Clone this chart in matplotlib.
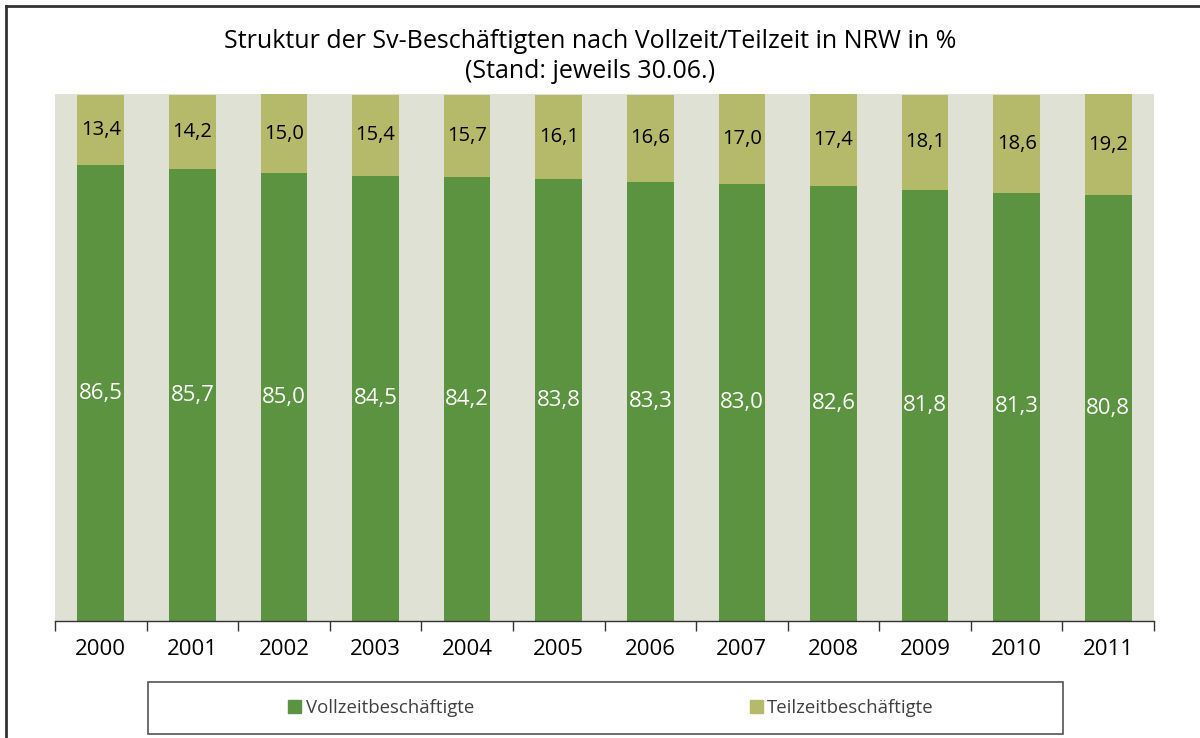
import matplotlib
matplotlib.use("Agg")
import matplotlib.pyplot as plt
from matplotlib.patches import Patch, Rectangle
from matplotlib.lines import Line2D

# Data
years = ["2000", "2001", "2002", "2003", "2004", "2005",
         "2006", "2007", "2008", "2009", "2010", "2011"]
vollzeit = [86.5, 85.7, 85.0, 84.5, 84.2, 83.8, 83.3, 83.0, 82.6, 81.8, 81.3, 80.8]
teilzeit = [13.4, 14.2, 15.0, 15.4, 15.7, 16.1, 16.6, 17.0, 17.4, 18.1, 18.6, 19.2]

c_voll = "#5b9340"
c_teil = "#b5ba6a"
c_bg = "#e0e1d5"

plt.rcParams["font.family"] = ["Open Sans", "DejaVu Sans"]

fig = plt.figure(figsize=(12, 7.38), dpi=100)
ax = fig.add_axes([55 / 1200, 1 - 621 / 738, 1099 / 1200, 527 / 738])

x = list(range(len(years)))
ax.bar(x, vollzeit, width=0.51, color=c_voll, zorder=2)
ax.bar(x, teilzeit, width=0.51, bottom=vollzeit, color=c_teil, zorder=2)

for i, (v, t) in enumerate(zip(vollzeit, teilzeit)):
    ax.text(i, v / 2, f"{v:.1f}".replace(".", ","), ha="center", va="center",
            color="white", fontsize=16, zorder=3)
    ax.text(i, v + t / 2, f"{t:.1f}".replace(".", ","), ha="center", va="center",
            color="black", fontsize=14.5, zorder=3)

ax.set_facecolor(c_bg)
ax.set_xlim(-0.5, len(years) - 0.5)
ax.set_ylim(0, 100)
ax.set_yticks([])
for s in ["top", "right", "left"]:
    ax.spines[s].set_visible(False)
ax.spines["bottom"].set_color("#333333")
ax.spines["bottom"].set_linewidth(1.0)

# category boundary ticks
ax.set_xticks([i - 0.5 for i in range(len(years) + 1)])
ax.set_xticklabels([])
ax.tick_params(axis="x", length=7, color="#333333", width=1.0)
ax.set_xticks(x, minor=True)
ax.set_xticklabels(years, minor=True, fontsize=16)
ax.tick_params(axis="x", which="minor", length=0, pad=13)

fig.text(0.492, 1 - 42 / 738, "Struktur der Sv-Beschäftigten nach Vollzeit/Teilzeit in NRW in %",
         ha="center", va="center", fontsize=18)
fig.text(0.492, 1 - 71 / 738, "(Stand: jeweils 30.06.)",
         ha="center", va="center", fontsize=18)

# legend box
fig.add_artist(Rectangle((148 / 1200, 1 - 734 / 738), 915 / 1200, 52 / 738,
                         transform=fig.transFigure, fill=False,
                         edgecolor="#555555", linewidth=1.2))
handles = [Patch(color=c_voll, label="Vollzeitbeschäftigte"),
           Patch(color=c_teil, label="Teilzeitbeschäftigte")]
leg = fig.legend(handles=handles, loc="center", bbox_to_anchor=(611 / 1200, 1 - 708 / 738),
                 ncol=2, frameon=False, fontsize=13.4, handlelength=0.7, handleheight=0.7,
                 handletextpad=0.25, columnspacing=14.8)
for t in leg.get_texts():
    t.set_color("#404040")

# outer border (top and left)
fig.add_artist(Line2D([6 / 1200, 6 / 1200], [0, 1 - 6 / 738], transform=fig.transFigure,
                      color="#333333", linewidth=2))
fig.add_artist(Line2D([6 / 1200, 1], [1 - 6 / 738, 1 - 6 / 738], transform=fig.transFigure,
                      color="#333333", linewidth=2))

fig.savefig("out.png", dpi=100)
